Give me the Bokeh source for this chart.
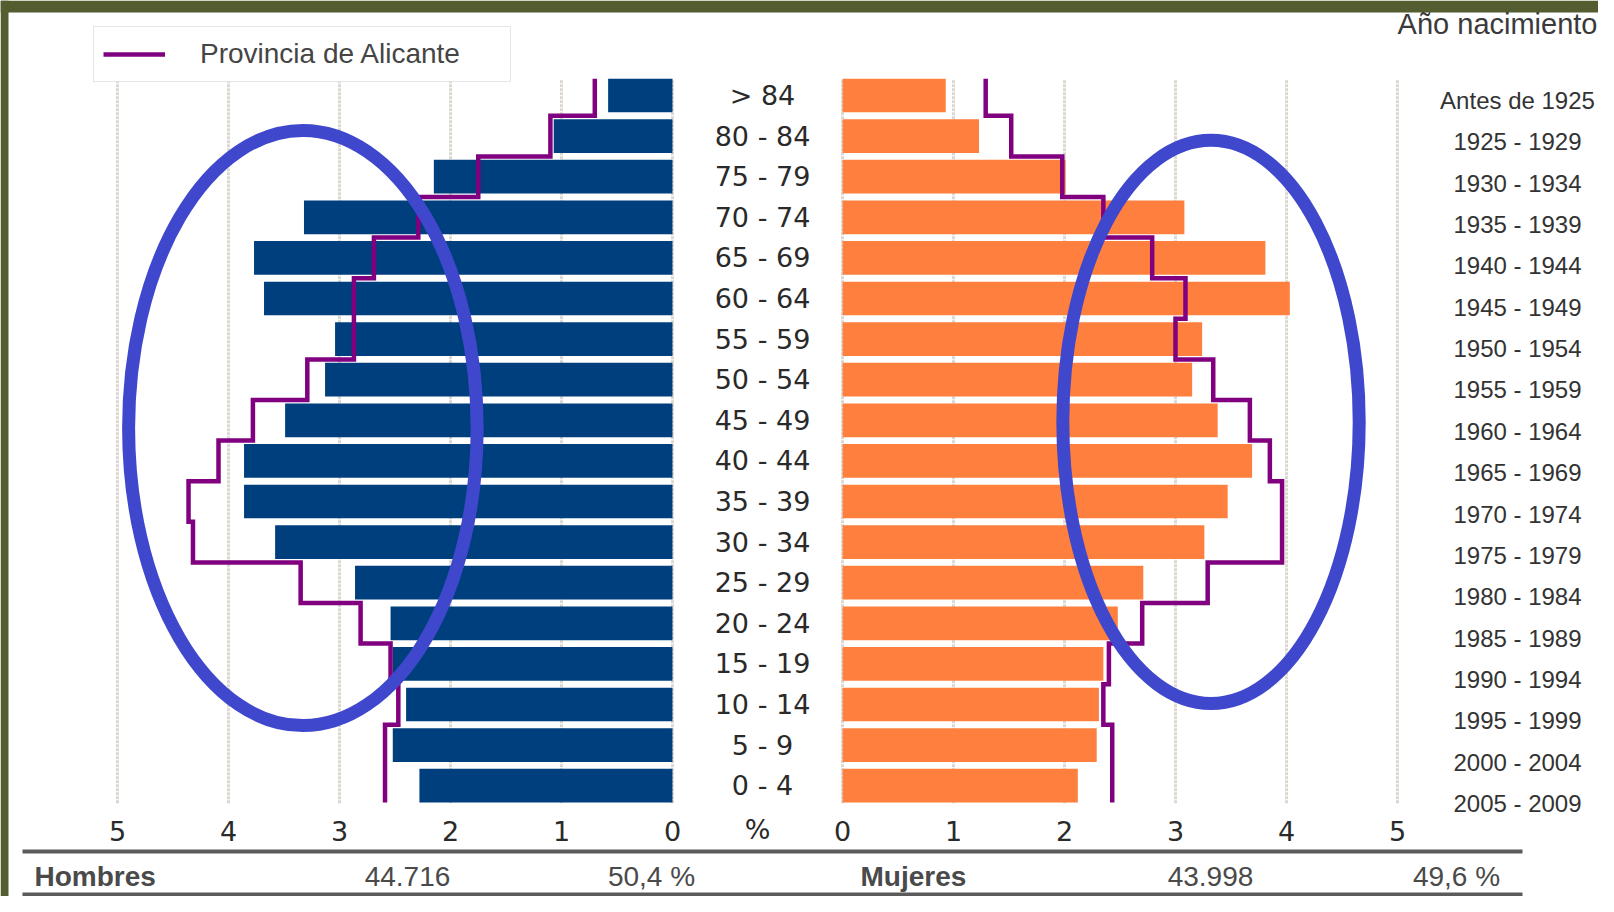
from bokeh.plotting import figure
from bokeh.models import Range1d, Legend, LegendItem
from bokeh.core.properties import value
from bokeh.embed import file_html
from bokeh.resources import INLINE

# ---------------- data (top row = oldest group) ----------------
ages = ["> 84", "80 - 84", "75 - 79", "70 - 74", "65 - 69", "60 - 64", "55 - 59",
        "50 - 54", "45 - 49", "40 - 44", "35 - 39", "30 - 34", "25 - 29", "20 - 24",
        "15 - 19", "10 - 14", "5 - 9", "0 - 4"]
births = ["Antes de 1925", "1925 - 1929", "1930 - 1934", "1935 - 1939", "1940 - 1944",
          "1945 - 1949", "1950 - 1954", "1955 - 1959", "1960 - 1964", "1965 - 1969",
          "1970 - 1974", "1975 - 1979", "1980 - 1984", "1985 - 1989", "1990 - 1994",
          "1995 - 1999", "2000 - 2004", "2005 - 2009"]
men = [0.58, 1.07, 2.15, 3.32, 3.77, 3.68, 3.04, 3.13, 3.49, 3.86, 3.86, 3.58,
       2.86, 2.54, 2.52, 2.40, 2.52, 2.28]
men_prov = [0.70, 1.10, 1.75, 2.29, 2.69, 2.87, 2.87, 3.29, 3.78, 4.09, 4.36, 4.32,
            3.35, 2.81, 2.54, 2.47, 2.59, 2.59]
women = [0.93, 1.23, 2.01, 3.08, 3.81, 4.03, 3.24, 3.15, 3.38, 3.69, 3.47, 3.26,
         2.71, 2.48, 2.35, 2.31, 2.29, 2.12]
women_prov = [1.29, 1.52, 1.98, 2.35, 2.79, 3.09, 3.00, 3.34, 3.67, 3.85, 3.96, 3.96,
              3.29, 2.70, 2.40, 2.35, 2.43, 2.43]
ticks = [0, 1, 2, 3, 4, 5]
tick_labels = ["0", "1", "2", "3", "4", "5"]
legend_label = "Provincia de Alicante"
birth_title = "Año nacimiento"
men_name, men_total, men_pct = "Hombres", "44.716", "50,4 %"
women_name, women_total, women_pct = "Mujeres", "43.998", "49,6 %"

# highlight ellipses: (centre value, centre row, width in value units, height in rows)
men_ellipse = (3.33, 8.81, 3.14, 14.66)
women_ellipse = (3.32, 8.96, 2.67, 13.87)

# ---------------- layout constants (canvas pixels) ----------------
W, H = 1598, 896
PX_M0, PX_W0, PX_UNIT = 672, 842, 111.0
ROW_TOP_PX, ROW_PITCH = 95.0, 40.6
BIRTH_TOP_PX, BIRTH_PITCH = 100.0, 41.35
N = len(ages)
BAR_H = 0.83

MEN_C = "#003f7d"
WOMEN_C = "#fe7f3e"
PROV_C = "#800080"
GRID_C = "#dcd8cf"
ELL_C = "#3f48cc"
TXT = "#2a2a2a"
GRAY_TXT = "#4a4a4a"
OLIVE = "#535d30"

def row_y(P, top=ROW_TOP_PX, pitch=ROW_PITCH):
    return (N - 1) - (P - top) / pitch

women_range = Range1d(-PX_W0 / PX_UNIT, (W - PX_W0) / PX_UNIT)
men_range = Range1d(PX_M0 / PX_UNIT, (PX_M0 - W) / PX_UNIT)
row_range = Range1d(row_y(H), row_y(0))
birth_range = Range1d(row_y(H, BIRTH_TOP_PX, BIRTH_PITCH), row_y(0, BIRTH_TOP_PX, BIRTH_PITCH))

p = figure(width=W, height=H, x_range=women_range, y_range=row_range,
           output_backend="svg", toolbar_location=None,
           x_axis_type=None, y_axis_type=None, min_border=0,
           outline_line_color=None, background_fill_color="white",
           border_fill_color="white")
p.extra_x_ranges = {"men": men_range, "page": Range1d(0, W)}
p.extra_y_ranges = {"page": Range1d(H, 0), "birth": birth_range}

rows = [N - 1 - i for i in range(N)]
top_edge = (N - 1) + BAR_H / 2
bot_edge = -BAR_H / 2

# olive frame (top and left bands)
p.quad(left=[0, 0], right=[W, 8], top=[0, 0], bottom=[12, H],
       x_range_name="page", y_range_name="page", fill_color=OLIVE, line_color=None)

# gridlines
for rng in ("men", "default"):
    p.segment(x0=ticks, x1=ticks, y0=[bot_edge - 0.02] * len(ticks), y1=[top_edge - 0.03] * len(ticks),
              x_range_name=rng, line_color=GRID_C, line_width=3, line_dash="3 1")

# bars
p.hbar(y=rows, left=0, right=men, height=BAR_H, x_range_name="men",
       fill_color=MEN_C, line_color=None)
p.hbar(y=rows, left=0, right=women, height=BAR_H,
       fill_color=WOMEN_C, line_color=None)

# province step outlines
def step_pts(vals):
    xs, ys = [], []
    for i, v in enumerate(vals):
        yc = N - 1 - i
        hi = top_edge if i == 0 else yc + 0.5
        lo = bot_edge if i == N - 1 else yc - 0.5
        xs += [v, v]
        ys += [hi, lo]
    return xs, ys

mx, my = step_pts(men_prov)
wx, wy = step_pts(women_prov)
men_line = p.line(mx, my, x_range_name="men", line_color=PROV_C, line_width=4.5, line_join="miter")
p.line(wx, wy, line_color=PROV_C, line_width=4.5, line_join="miter")

# age labels (centre column)
p.text(x=[762] * N, y=rows, text=ages, x_range_name="page",
       text_font=value("DejaVu Sans"), text_font_size="27px", text_color=TXT,
       text_align="center", text_baseline="middle")

# birth-year labels (right column)
p.text(x=[1517] * N, y=rows, text=births, x_range_name="page", y_range_name="birth",
       text_font=value("Liberation Sans"), text_font_size="24px", text_color="#333333",
       text_align="center", text_baseline="middle")
p.text(x=[1597], y=[23], text=[birth_title], x_range_name="page", y_range_name="page",
       text_font=value("Liberation Sans"), text_font_size="29px", text_color="#3a3a3a",
       text_align="right", text_baseline="middle")

# tick labels
p.text(x=ticks, y=[830] * len(ticks), text=tick_labels, x_range_name="men", y_range_name="page",
       text_font=value("DejaVu Sans"), text_font_size="27px", text_color=TXT,
       text_align="center", text_baseline="middle")
p.text(x=ticks, y=[830] * len(ticks), text=tick_labels, y_range_name="page",
       text_font=value("DejaVu Sans"), text_font_size="27px", text_color=TXT,
       text_align="center", text_baseline="middle")
p.text(x=[757], y=[829], text=["%"], x_range_name="page", y_range_name="page",
       text_font=value("DejaVu Sans"), text_font_size="27px", text_color=TXT,
       text_align="center", text_baseline="middle")

# summary table
p.segment(x0=[22, 22], x1=[1522, 1522], y0=[851, 894], y1=[851, 894],
          x_range_name="page", y_range_name="page", line_color="#5b5b5b", line_width=4)
p.text(x=[34, 860], y=[876, 876], text=[men_name, women_name],
       x_range_name="page", y_range_name="page",
       text_font=value("Liberation Sans"), text_font_size="28px", text_font_style="bold",
       text_color=GRAY_TXT, text_align="left", text_baseline="middle")
p.text(x=[407, 1210, 651, 1456], y=[876] * 4,
       text=[men_total, women_total, men_pct, women_pct],
       x_range_name="page", y_range_name="page",
       text_font=value("Liberation Sans"), text_font_size="28px",
       text_color=GRAY_TXT, text_align="center", text_baseline="middle")

# highlight ellipses
p.ellipse(x=[men_ellipse[0]], y=[men_ellipse[1]], width=[men_ellipse[2]], height=[men_ellipse[3]],
          x_range_name="men", fill_color=None, line_color=ELL_C, line_width=13)
p.ellipse(x=[women_ellipse[0]], y=[women_ellipse[1]], width=[women_ellipse[2]], height=[women_ellipse[3]],
          fill_color=None, line_color=ELL_C, line_width=13)

# legend (location = bottom-left corner, measured from the frame's bottom-left)
legend = Legend(items=[LegendItem(label=legend_label, renderers=[men_line])],
                location=(93, H - 82),
                padding=9, margin=0, spacing=0, glyph_width=62, glyph_height=36,
                label_standoff=35, label_width=301, label_height=36,
                border_line_color="#cccccc", border_line_width=1.5,
                background_fill_color="white", background_fill_alpha=1.0,
                label_text_font="Liberation Sans", label_text_font_size="28px",
                label_text_color="#454545", label_text_baseline="middle")
p.add_layout(legend)

open("out.html", "w").write(file_html(p, INLINE))
